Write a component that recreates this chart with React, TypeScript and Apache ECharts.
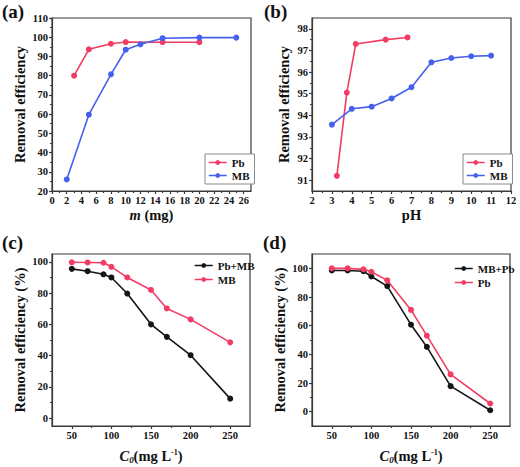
import React, { useEffect, useRef } from "react";
import * as echarts from "echarts";

// ---- data ----
const aPbX = [3, 5, 8, 10, 15, 20];
const aPbY = [80, 93.7, 96.6, 97.5, 97.4, 97.4];
const aMBX = [2, 5, 8, 10, 12, 15, 20, 25];
const aMBY = [26, 59.7, 80.7, 93.5, 96.3, 99.5, 99.8, 99.8];

const bPbX = [3.25, 3.75, 4.2, 5.7, 6.8];
const bPbY = [91.2, 95.05, 97.3, 97.5, 97.6];
const bMBX = [3, 4, 5, 6, 7, 8, 9, 10, 11];
const bMBY = [93.57, 94.3, 94.4, 94.78, 95.3, 96.45, 96.65, 96.73, 96.76];

const cdX = [50, 70, 90, 100, 120, 150, 170, 200, 250];
const cPbMB = [95.5, 94, 92, 90, 79.7, 60, 52, 40.3, 12.5];
const cMB = [99.7, 99.6, 99.4, 96.8, 90, 82, 70.2, 63.2, 48.5];
const dMBPb = [98.5, 98.5, 98, 94.3, 87.6, 60.7, 45.2, 17.8, 1];
const dPb = [100, 100, 99.3, 97.6, 91.6, 71, 53, 26, 5.7];

// ---- ticks ----
const aXTicks = [0, 2, 4, 6, 8, 10, 12, 14, 16, 18, 20, 22, 24, 26];
const aXMinor = [1, 3, 5, 7, 9, 11, 13, 15, 17, 19, 21, 23, 25];
const aYTicks = [20, 30, 40, 50, 60, 70, 80, 90, 100, 110];
const aYMinor = [25, 35, 45, 55, 65, 75, 85, 95, 105];
const bXTicks = [2, 3, 4, 5, 6, 7, 8, 9, 10, 11, 12];
const bXMinor = [2.5, 3.5, 4.5, 5.5, 6.5, 7.5, 8.5, 9.5, 10.5, 11.5];
const bYTicks = [91, 92, 93, 94, 95, 96, 97, 98];
const bYMinor = [91.5, 92.5, 93.5, 94.5, 95.5, 96.5, 97.5];
const cdXTicks = [50, 100, 150, 200, 250];
const cdXMinor = [75, 125, 175, 225];
const cdYTicks = [0, 20, 40, 60, 80, 100];
const cdYMinor = [10, 30, 50, 70, 90];

const RED = "#f23c64";
const BLUE = "#4660ee";
const BLACK = "#151515";
const FONT = "Liberation Serif";
const AXC = "#3a3a3a";

const zip = (xs: number[], ys: number[]) => xs.map((x, i) => [x, ys[i]]);

const grids = [
  { left: 52, top: 18, width: 199, height: 173 },
  { left: 312, top: 18, width: 199, height: 173 },
  { left: 52, top: 254, width: 198, height: 172 },
  { left: 312, top: 254, width: 198, height: 172 },
];

function axisPair(
  dim: "x" | "y",
  gridIndex: number,
  min: number,
  max: number,
  majors: number[],
  minors: number[],
  name: any,
  nameGap: number,
  rich?: any
) {
  const lineStyle = { color: AXC, width: 1.2 };
  const major: any = {
    type: "value",
    gridIndex,
    min,
    max,
    position: dim === "x" ? "bottom" : "left",
    axisLine: { show: true, onZero: false, lineStyle },
    axisTick: { show: true, inside: false, length: 3, customValues: majors, lineStyle },
    axisLabel: {
      customValues: majors,
      fontFamily: FONT,
      fontWeight: "bold",
      fontSize: 10.5,
      color: "#111",
      margin: 4,
    },
    splitLine: { show: false },
    name,
    nameLocation: "middle",
    nameGap,
    nameTextStyle: {
      fontFamily: FONT,
      fontWeight: "bold",
      fontSize: 14.5,
      color: "#111",
      lineHeight: 16,
      rich,
    },
  };
  const minor: any = {
    type: "value",
    gridIndex,
    min,
    max,
    position: dim === "x" ? "bottom" : "left",
    axisLine: { show: false, onZero: false },
    axisTick: { show: true, inside: false, length: 2, customValues: minors, lineStyle },
    axisLabel: { show: false },
    splitLine: { show: false },
  };
  return [major, minor];
}

const italicRich = {
  i: { fontFamily: FONT, fontWeight: "bold", fontStyle: "italic", fontSize: 14.5, color: "#111", lineHeight: 16 },
  sub: { fontFamily: FONT, fontWeight: "bold", fontStyle: "italic", fontSize: 9, color: "#111", lineHeight: 9, verticalAlign: "bottom" },
  sup: { fontFamily: FONT, fontWeight: "bold", fontSize: 8, color: "#111", lineHeight: 8, verticalAlign: "top" },
};

function lineSeries(name: string, data: number[][], color: string, g: number) {
  return {
    type: "line",
    name,
    xAxisIndex: g * 2,
    yAxisIndex: g * 2,
    data,
    symbol: "circle",
    symbolSize: 6,
    itemStyle: { color },
    lineStyle: { color, width: 1.6 },
  };
}

function legendItem(name: string, color: string) {
  return { name, itemStyle: { color }, lineStyle: { color, width: 1.5 } };
}

const legendText = { fontFamily: FONT, fontWeight: "bold", fontSize: 11, color: "#111" };

export default function App() {
  const ref = useRef<HTMLDivElement>(null);
  useEffect(() => {
    if (!ref.current) return;
    const chart = echarts.init(ref.current, undefined, { renderer: "svg" });

    const xAxes = [
      ...axisPair("x", 0, 0, 27, aXTicks, aXMinor, "{i|m} (mg)", 13, italicRich),
      ...axisPair("x", 1, 2, 12, bXTicks, bXMinor, "pH", 13),
      ...axisPair("x", 2, 25, 275, cdXTicks, cdXMinor, "{i|C}{sub|0}(mg L{sup|-1})", 22, italicRich),
      ...axisPair("x", 3, 25, 275, cdXTicks, cdXMinor, "{i|C}{sub|0}(mg L{sup|-1})", 22, italicRich),
    ];
    const yAxes = [
      ...axisPair("y", 0, 20, 110, aYTicks, aYMinor, "Removal efficiency", 24),
      ...axisPair("y", 1, 90.5, 98.5, bYTicks, bYMinor, "Removal efficiency", 20),
      ...axisPair("y", 2, -5, 105, cdYTicks, cdYMinor, "Removal efficiency (%)", 24),
      ...axisPair("y", 3, -10, 110, cdYTicks, cdYMinor, "Removal efficiency (%)", 24),
    ];

    const boxLegend = (left: number) => ({
      orient: "vertical",
      left,
      top: 154,
      padding: [3, 5, 3, 3],
      itemGap: 2,
      itemWidth: 18,
      itemHeight: 6,
      borderColor: "#8a8a8a",
      borderWidth: 1,
      backgroundColor: "#fff",
      textStyle: legendText,
      selectedMode: false,
      data: [legendItem("Pb", RED), legendItem("MB", BLUE)],
    });

    chart.setOption({
      animation: false,
      backgroundColor: "#fff",
      textStyle: { fontFamily: FONT, fontWeight: "bold" },
      grid: grids.map((g) => ({
        ...g,
        show: true,
        borderColor: AXC,
        borderWidth: 1.2,
        backgroundColor: "transparent",
        containLabel: false,
        outerBoundsMode: "none",
      })),
      xAxis: xAxes,
      yAxis: yAxes,
      legend: [
        boxLegend(205),
        boxLegend(463),
        {
          orient: "vertical",
          left: 194,
          top: 260,
          padding: 0,
          itemGap: 3,
          itemWidth: 18,
          itemHeight: 6,
          textStyle: legendText,
          selectedMode: false,
          data: [legendItem("Pb+MB", BLACK), legendItem("MB", RED)],
        },
        {
          orient: "vertical",
          left: 454,
          top: 263,
          padding: 0,
          itemGap: 3,
          itemWidth: 18,
          itemHeight: 6,
          textStyle: legendText,
          selectedMode: false,
          data: [legendItem("MB+Pb", BLACK), legendItem("Pb", RED)],
        },
      ],
      series: [
        lineSeries("Pb", zip(aPbX, aPbY), RED, 0),
        lineSeries("MB", zip(aMBX, aMBY), BLUE, 0),
        lineSeries("Pb", zip(bPbX, bPbY), RED, 1),
        lineSeries("MB", zip(bMBX, bMBY), BLUE, 1),
        lineSeries("Pb+MB", zip(cdX, cPbMB), BLACK, 2),
        lineSeries("MB", zip(cdX, cMB), RED, 2),
        lineSeries("MB+Pb", zip(cdX, dMBPb), BLACK, 3),
        lineSeries("Pb", zip(cdX, dPb), RED, 3),
      ],
      graphic: [
        { type: "text", left: 2, top: 2, style: { text: "(a)", fontFamily: FONT, fontWeight: "bold", fontSize: 19, fill: "#111" } },
        { type: "text", left: 264, top: 2, style: { text: "(b)", fontFamily: FONT, fontWeight: "bold", fontSize: 19, fill: "#111" } },
        { type: "text", left: 2, top: 233, style: { text: "(c)", fontFamily: FONT, fontWeight: "bold", fontSize: 19, fill: "#111" } },
        { type: "text", left: 263, top: 233, style: { text: "(d)", fontFamily: FONT, fontWeight: "bold", fontSize: 19, fill: "#111" } },
      ],
    });
    return () => chart.dispose();
  }, []);
  return (
    <div
      ref={ref}
      style={{ position: "absolute", left: 0, top: 0, width: 520, height: 467 }}
    />
  );
}
